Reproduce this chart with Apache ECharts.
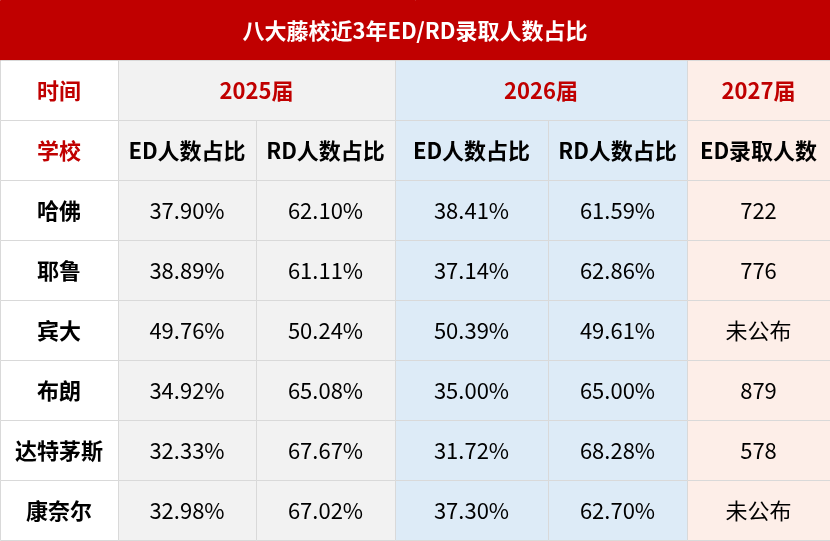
<!DOCTYPE html>
<html><head><meta charset="utf-8">
<script src="https://cdn.jsdelivr.net/npm/echarts@6/dist/echarts.min.js"></script>
<style>html,body{margin:0;padding:0;background:#fff}#c{width:830px;height:541px}</style>
</head><body><div id="c"></div>
<script>
// ---- data ----
var title = '八大藤校近3年ED/RD录取人数占比';
var years = ['2025届', '2026届', '2027届'];
var subHeaders = ['ED人数占比', 'RD人数占比', 'ED人数占比', 'RD人数占比', 'ED录取人数'];
var schools = ['哈佛', '耶鲁', '宾大', '布朗', '达特茅斯', '康奈尔'];
var ed2025 = ['37.90%', '38.89%', '49.76%', '34.92%', '32.33%', '32.98%'];
var rd2025 = ['62.10%', '61.11%', '50.24%', '65.08%', '67.67%', '67.02%'];
var ed2026 = ['38.41%', '37.14%', '50.39%', '35.00%', '31.72%', '37.30%'];
var rd2026 = ['61.59%', '62.86%', '49.61%', '65.00%', '68.28%', '62.70%'];
var ed2027 = ['722', '776', '未公布', '879', '578', '未公布'];

// ---- layout ----
var colEdges = [0, 118, 256, 395, 548, 687, 830];
var rowEdges = [0, 60, 120, 180, 240, 300, 360, 420, 480, 540];
var colBg = ['#FFFFFF', '#F2F2F2', '#F2F2F2', '#DDEBF7', '#DDEBF7', '#FDEEE8'];
var RED = '#C00000';

// cells: [col, row, colSpan, text, kind]
var cells = [];
cells.push([0, 0, 6, title, 'title']);
cells.push([0, 1, 1, '时间', 'redHead']);
cells.push([1, 1, 2, years[0], 'redHead']);
cells.push([3, 1, 2, years[1], 'redHead']);
cells.push([5, 1, 1, years[2], 'redHead']);
cells.push([0, 2, 1, '学校', 'redHead']);
subHeaders.forEach(function (h, i) { cells.push([i + 1, 2, 1, h, 'head']); });
var cols = [ed2025, rd2025, ed2026, rd2026, ed2027];
schools.forEach(function (s, r) {
  cells.push([0, r + 3, 1, s, 'head']);
  cols.forEach(function (arr, c) { cells.push([c + 1, r + 3, 1, arr[r], 'val']); });
});

var chart = echarts.init(document.getElementById('c'));
chart.setOption({
  animation: false,
  grid: { left: 0, right: 0, top: 0, bottom: 0 },
  xAxis: { type: 'value', min: 0, max: 830, show: false },
  yAxis: { type: 'value', min: 0, max: 541, inverse: true, show: false },
  series: [{
    type: 'custom',
    coordinateSystem: 'cartesian2d',
    data: cells,
    encode: { x: 0, y: 1 },
    renderItem: function (params, api) {
      var col = api.value(0), row = api.value(1), span = api.value(2);
      var d = cells[params.dataIndex];
      var text = d[3], kind = d[4];
      var p0 = api.coord([colEdges[col], rowEdges[row]]);
      var p1 = api.coord([colEdges[col + span], rowEdges[row + 1]]);
      var x = p0[0], y = p0[1], w = p1[0] - p0[0], h = p1[1] - p0[1];
      var fill = kind === 'title' ? RED : colBg[col];
      var color = kind === 'title' ? '#FFFFFF' : (kind === 'redHead' ? RED : '#000000');
      var weight = kind === 'val' ? 'normal' : 'bold';
      return {
        type: 'group',
        children: [
          { type: 'rect', shape: { x: x + 0.5, y: y + 0.5, width: w, height: h },
            style: { fill: fill, stroke: kind === 'title' ? RED : '#D9D9D9', lineWidth: 1 } },
          { type: 'text', x: x + w / 2, y: y + h / 2 + 1,
            style: { text: text, fill: color, fontSize: 22, fontWeight: weight,
              fontFamily: '"Noto Sans CJK SC","Noto Sans",sans-serif',
              align: 'center', verticalAlign: 'middle' } }
        ]
      };
    }
  }]
});
</script></body></html>
